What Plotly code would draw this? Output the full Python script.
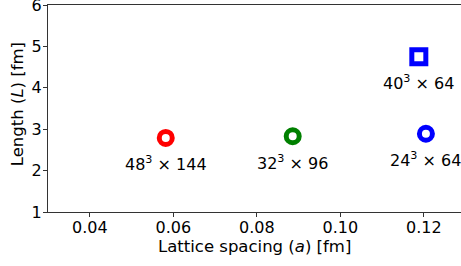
import plotly.graph_objects as go

# Data
labels = ["48<sup>3</sup> × 144", "32<sup>3</sup> × 96", "24<sup>3</sup> × 64", "40<sup>3</sup> × 64"]
spacing = [0.0582, 0.0886, 0.1205, 0.1188]
length = [2.79, 2.83, 2.89, 4.75]
colors = ["red", "green", "blue", "blue"]
symbols = ["circle-open", "circle-open", "circle-open", "square-open"]
x_ticks = [0.04, 0.06, 0.08, 0.10, 0.12]
x_ticklabels = ["0.04", "0.06", "0.08", "0.10", "0.12"]
y_ticks = [1, 2, 3, 4, 5, 6]
x_title = "Lattice spacing (<i>a</i>) [fm]"
y_title = "Length (<i>L</i>) [fm]"

FONT = "DejaVu Sans"
fig = go.Figure()
for a, L, c, s in zip(spacing, length, colors, symbols):
    sz = 14 if s.startswith("square") else 13
    fig.add_trace(go.Scatter(
        x=[a], y=[L], mode="markers",
        marker=dict(symbol=s, size=sz, color=c, line=dict(color=c, width=5)),
        showlegend=False, hoverinfo="skip", cliponaxis=False))

for a, L, t in zip(spacing, length, labels):
    fig.add_annotation(x=a, y=L, text=t, showarrow=False, yshift=-26,
                       font=dict(family=FONT, size=16, color="black"))

# Axis titles placed as annotations for exact positioning
fig.add_annotation(xref="paper", yref="paper", x=0.5, y=-0.165, text=x_title,
                   showarrow=False, xanchor="center", yanchor="middle",
                   font=dict(family=FONT, size=16.5, color="black"))
fig.add_annotation(xref="paper", yref="paper", x=-0.073, y=0.52, text=y_title,
                   showarrow=False, xanchor="center", yanchor="middle", textangle=-90,
                   font=dict(family=FONT, size=16.5, color="black"))

axis_common = dict(showline=True, linecolor="#333", linewidth=1.2,
                   ticks="outside", ticklen=4, tickcolor="#333",
                   showgrid=False, zeroline=False, automargin=False,
                   ticklabeloverflow="allow",
                   tickfont=dict(family=FONT, size=16, color="black"))

fig.update_layout(
    width=461, height=266,
    margin=dict(l=48, r=0, t=5, b=54),
    paper_bgcolor="white", plot_bgcolor="white",
    xaxis=dict(range=[0.03, 0.1289], tickvals=x_ticks, ticktext=x_ticklabels,
               mirror=True, ticklabelstandoff=-3, **axis_common),
    yaxis=dict(range=[1, 6], tickvals=y_ticks, ticklabelstandoff=-2,
               **axis_common),
)

fig.write_html("out.html", config={"displayModeBar": False},
               post_script="document.body.style.margin='0';document.body.style.overflow='hidden';")
